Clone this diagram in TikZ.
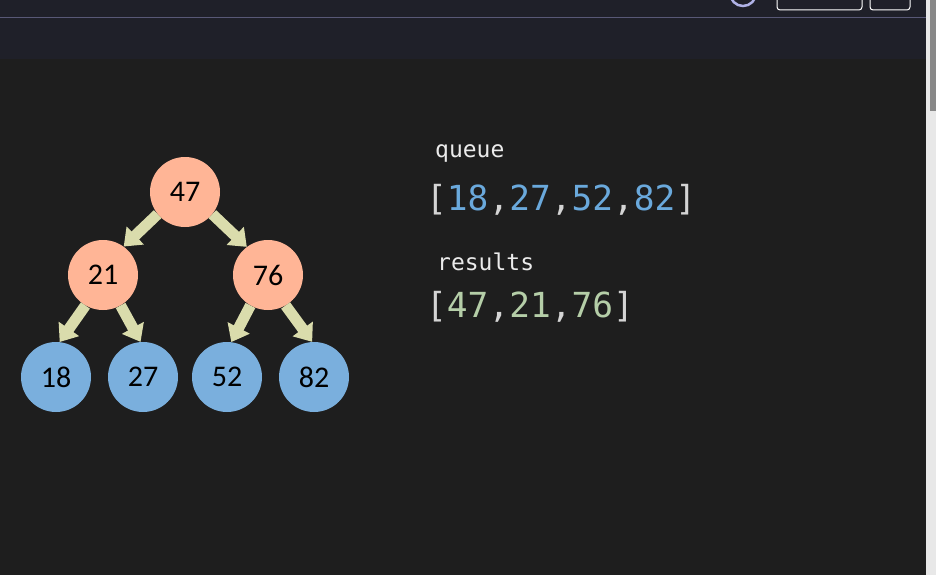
\documentclass[tikz,border=0pt]{standalone}
\usepackage{fontspec}
\setmainfont{Carlito}
\newfontfamily\codefont{DejaVu Sans Mono}
\usetikzlibrary{arrows.meta}
\definecolor{bgmain}{RGB}{30,30,30}
\definecolor{bgtop}{RGB}{31,32,41}
\definecolor{topline}{RGB}{88,88,118}
\definecolor{salmon}{RGB}{255,181,150}
\definecolor{leafblue}{RGB}{122,175,221}
\definecolor{arrowcol}{RGB}{218,220,172}
\definecolor{qblue}{RGB}{106,169,220}
\definecolor{rgreen}{RGB}{181,206,168}
\definecolor{brk}{RGB}{212,212,212}
\definecolor{labelcol}{RGB}{235,235,235}
\definecolor{sbtrack}{RGB}{232,232,232}
\definecolor{sbthumb}{RGB}{136,136,136}
\definecolor{ringcol}{RGB}{176,178,230}
\tikzset{
  inner/.style={circle,fill=salmon,minimum size=70pt,inner sep=0pt,font=\fontsize{30}{31}\selectfont,text=black},
  leaf/.style={circle,fill=leafblue,minimum size=70pt,inner sep=0pt,font=\fontsize{30}{31}\selectfont,text=black},
  treearrow/.style={draw=arrowcol,line width=11pt,-{Triangle[width=24pt,length=16pt]},fill=arrowcol},
  arr/.style={anchor=base west,inner sep=0pt,font=\codefont\fontsize{34.5}{36}\selectfont,text=brk},
  lbl/.style={anchor=base west,inner sep=0pt,font=\codefont\fontsize{23}{24}\selectfont,text=labelcol},
  topbox/.style={draw=white,line width=1pt,rounded corners=3pt}
}
\begin{document}
\begin{tikzpicture}[x=1pt,y=-1pt]
\useasboundingbox (0,0) rectangle (936,575);
% backgrounds
\fill[bgmain] (0,0) rectangle (936,575);
\fill[bgtop] (0,0) rectangle (926,59);
\draw[topline,line width=1pt] (0,18) -- (926,18);
% top right controls (cropped)
\draw[topbox] (777,-6) rectangle (862,10);
\draw[topbox] (870,-6) rectangle (910,10);
\draw[ringcol,line width=2.5pt] (743,-7) circle (13);
% scrollbar
\fill[sbtrack] (926,0) rectangle (936,575);
\fill[sbthumb] (930,0) rectangle (936,111);
% tree nodes
\node[inner] (n47) at (185,192) {47};
\node[inner] (n21) at (103,275) {21};
\node[inner] (n76) at (268,275) {76};
\node[leaf] (n18) at (56,377) {18};
\node[leaf] (n27) at (143,377) {27};
\node[leaf] (n52) at (227,377) {52};
\node[leaf] (n82) at (314,377) {82};
% arrows
\draw[treearrow] (n47.-141) -- (n21.54);
\draw[treearrow] (n47.-39) -- (n76.127);
\draw[treearrow] (n21.-120) -- (n18.84);
\draw[treearrow] (n21.-60) -- (n27.94);
\draw[treearrow] (n76.-120) -- (n52.83);
\draw[treearrow] (n76.-60) -- (n82.93);
% text panel
\node[lbl] (qlabel) at (435,157) {queue};
\node[arr] (qarr) at (426,210) {[\textcolor{qblue}{18},\textcolor{qblue}{27},\textcolor{qblue}{52},\textcolor{qblue}{82}]};
\node[lbl] (rlabel) at (437,270) {results};
\node[arr] (rarr) at (426,317) {[\textcolor{rgreen}{47},\textcolor{rgreen}{21},\textcolor{rgreen}{76}]};
\end{tikzpicture}
\end{document}
